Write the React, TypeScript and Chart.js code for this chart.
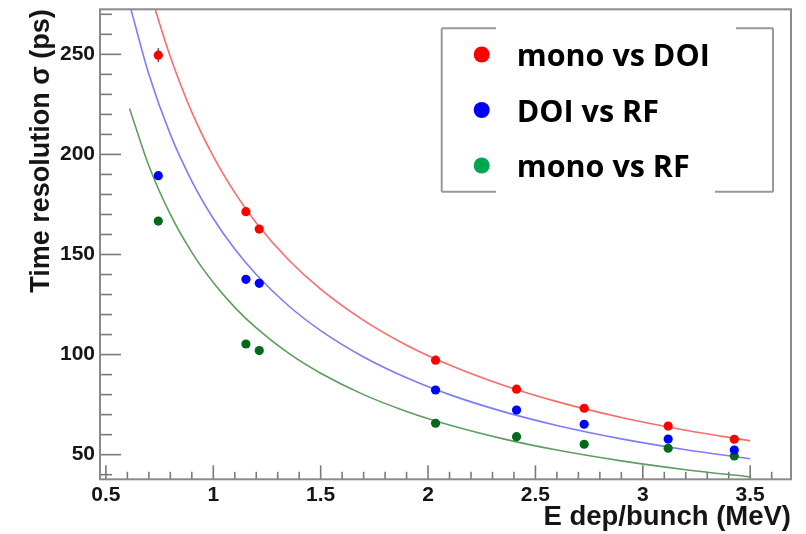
import React, { useEffect, useRef } from "react";
import { Chart, registerables } from "chart.js";

Chart.register(...registerables);

// Measured points (E dep/bunch in MeV)
const energy = [0.744, 1.152, 1.214, 2.035, 2.412, 2.727, 3.118, 3.426];
const monoVsDoi = [249.6, 171.4, 162.7, 97.2, 82.7, 73.2, 64.3, 57.7];
const doiVsRf = [189.4, 137.6, 135.6, 82.3, 72.3, 65.2, 57.8, 52.3];
const monoVsRf = [166.7, 105.3, 102.0, 65.7, 59.0, 55.2, 53.2, 49.4];
const monoVsDoiErr = [3.5, 0, 0, 0, 0, 0, 0, 0];

// Fit curves
const redFitX = [0.729, 0.8, 0.9, 1.0, 1.1, 1.2, 1.35, 1.5, 1.7, 1.9, 2.1, 2.35, 2.6, 2.9, 3.2, 3.5];
const redFitY = [272.5, 248.8, 221.1, 199.0, 180.9, 165.8, 147.4, 132.7, 117.1, 104.7, 94.8, 84.7, 76.5, 68.6, 62.2, 56.9];
const blueFitX = [0.616, 0.7, 0.8, 0.9, 1.0, 1.1, 1.2, 1.35, 1.5, 1.7, 1.9, 2.1, 2.35, 2.6, 2.9, 3.2, 3.5];
const blueFitY = [272.7, 240.0, 210.0, 186.7, 168.0, 152.7, 140.0, 124.4, 112.0, 98.8, 88.4, 80.0, 71.5, 64.6, 57.9, 52.5, 48.0];
const greenFitX = [0.61, 0.7, 0.8, 0.9, 1.0, 1.1, 1.2, 1.35, 1.5, 1.7, 1.9, 2.1, 2.35, 2.6, 2.9, 3.2, 3.5];
const greenFitY = [223.0, 194.3, 170.0, 151.1, 136.0, 123.6, 113.3, 100.7, 90.7, 80.0, 71.6, 64.8, 57.9, 52.3, 46.9, 42.5, 38.9];

// Axis ticks
const xMajorTicks = [0.5, 1, 1.5, 2, 2.5, 3, 3.5];
const xMinorTicks = [0.6, 0.7, 0.8, 0.9, 1.1, 1.2, 1.3, 1.4, 1.6, 1.7, 1.8, 1.9, 2.1, 2.2, 2.3, 2.4, 2.6, 2.7, 2.8, 2.9, 3.1, 3.2, 3.3, 3.4, 3.6];
const yMajorTicks = [50, 100, 150, 200, 250];
const yMinorTicks = [40, 60, 70, 80, 90, 110, 120, 130, 140, 160, 170, 180, 190, 210, 220, 230, 240, 260, 270];

const legendLabels = ["mono vs DOI", "DOI vs RF", "mono vs RF"];
const legendColors = ["#ff0000", "#0000ff", "#00a550"];

const xTitle = "E dep/bunch (MeV)";
const yTitle = "Time resolution \u03c3 (ps)";

const pts = (xs: number[], ys: number[]) => xs.map((x, i) => ({ x, y: ys[i] }));

export default function App() {
  const ref = useRef<HTMLCanvasElement>(null);

  useEffect(() => {
    const canvas = ref.current;
    if (!canvas) return;

    const rootPlugin = {
      id: "rootStyle",
      beforeDatasetsDraw(chart: any) {
        const { ctx, scales } = chart;
        const xs = scales.x, ys = scales.y;
        ctx.save();
        ctx.strokeStyle = "#555";
        ctx.lineWidth = 1.5;
        energy.forEach((e, i) => {
          const err = monoVsDoiErr[i];
          if (!err) return;
          const px = xs.getPixelForValue(e);
          ctx.beginPath();
          ctx.moveTo(px, ys.getPixelForValue(monoVsDoi[i] - err));
          ctx.lineTo(px, ys.getPixelForValue(monoVsDoi[i] + err));
          ctx.stroke();
        });
        ctx.restore();
      },
      afterDatasetsDraw(chart: any) {
        const { ctx, chartArea: a, scales } = chart;
        const xs = scales.x, ys = scales.y;
        ctx.save();
        ctx.strokeStyle = "#7a7a7a";
        ctx.lineWidth = 1.6;
        const tick = (x1: number, y1: number, x2: number, y2: number) => {
          ctx.beginPath();
          ctx.moveTo(x1, y1);
          ctx.lineTo(x2, y2);
          ctx.stroke();
        };
        xMajorTicks.forEach((v) => { const p = xs.getPixelForValue(v); tick(p, a.bottom, p, a.bottom - 14); });
        xMinorTicks.forEach((v) => { const p = xs.getPixelForValue(v); tick(p, a.bottom, p, a.bottom - 7.5); });
        yMajorTicks.forEach((v) => { const p = ys.getPixelForValue(v); tick(a.left, p, a.left + 21, p); });
        yMinorTicks.forEach((v) => { const p = ys.getPixelForValue(v); tick(a.left, p, a.left + 12, p); });
        ctx.strokeStyle = "#8a8a8a";
        ctx.lineWidth = 2;
        ctx.strokeRect(a.left, a.top, a.right - a.left, a.bottom - a.top);
        ctx.restore();
      },
      afterDraw(chart: any) {
        const { ctx } = chart;
        ctx.save();
        // legend box (partially covered border, as in the figure)
        const L = 441.7, R = 773, T = 28.3, B = 191.7;
        ctx.fillStyle = "#fff";
        ctx.fillRect(L, T, R - L, B - T);
        ctx.strokeStyle = "#999";
        ctx.lineWidth = 2;
        const seg = (x1: number, y1: number, x2: number, y2: number) => {
          ctx.beginPath();
          ctx.moveTo(x1, y1);
          ctx.lineTo(x2, y2);
          ctx.stroke();
        };
        seg(L, T, L, B);
        seg(R, T, R, B);
        seg(L, T, 496, T);
        seg(736, T, R, T);
        seg(L, B, 496, B);
        seg(715, B, R, B);
        const baselines = [66, 121.5, 177];
        legendLabels.forEach((lab, i) => {
          ctx.fillStyle = legendColors[i];
          ctx.beginPath();
          ctx.arc(481.7, baselines[i] - 11.5, 8, 0, Math.PI * 2);
          ctx.fill();
          ctx.fillStyle = "#000";
          ctx.font = "bold 30.5px 'Open Sans'";
          ctx.textBaseline = "alphabetic";
          ctx.textAlign = "left";
          ctx.fillText(lab, 516.7, baselines[i]);
        });
        ctx.restore();
      },
    };

    const chart = new Chart(canvas, {
      type: "scatter",
      data: {
        datasets: [
          { label: "mono vs DOI fit", data: pts(redFitX, redFitY), showLine: true, borderColor: "#ff6a6a", borderWidth: 1.6, pointRadius: 0, cubicInterpolationMode: "monotone", order: 2 },
          { label: "DOI vs RF fit", data: pts(blueFitX, blueFitY), showLine: true, borderColor: "#7c7cff", borderWidth: 1.6, pointRadius: 0, cubicInterpolationMode: "monotone", order: 2 },
          { label: "mono vs RF fit", data: pts(greenFitX, greenFitY), showLine: true, borderColor: "#5e9e5e", borderWidth: 1.6, pointRadius: 0, cubicInterpolationMode: "monotone", order: 2 },
          { label: legendLabels[0], data: pts(energy, monoVsDoi), pointRadius: 4.6, pointBackgroundColor: "#ff0000", pointBorderWidth: 0, borderColor: "#ff0000", order: 1 },
          { label: legendLabels[1], data: pts(energy, doiVsRf), pointRadius: 4.6, pointBackgroundColor: "#0000ff", pointBorderWidth: 0, borderColor: "#0000ff", order: 1 },
          { label: legendLabels[2], data: pts(energy, monoVsRf), pointRadius: 4.6, pointBackgroundColor: "#046a1a", pointBorderWidth: 0, borderColor: "#046a1a", order: 1 },
        ] as any,
      },
      options: {
        animation: false,
        responsive: true,
        maintainAspectRatio: false,
        layout: { padding: { left: 0, top: 9.3, right: 15, bottom: 0 } },
        plugins: { legend: { display: false }, tooltip: { enabled: false } },
        scales: {
          x: {
            type: "linear",
            min: 0.4725,
            max: 3.69,
            grid: { display: false, drawTicks: false },
            border: { display: false },
            afterBuildTicks: (s: any) => { s.ticks = xMajorTicks.map((v) => ({ value: v })); },
            afterFit: (s: any) => { s.height = 54.7; s.paddingLeft = 0; s.paddingRight = 0; },
            ticks: {
              autoSkip: false,
              maxRotation: 0,
              padding: 3,
              color: "#151515",
              font: { family: "'Liberation Sans', Arial, sans-serif", size: 21, weight: "bold" },
              callback: (v: any) => String(v),
            },
            title: {
              display: true,
              text: xTitle,
              align: "end",
              color: "#151515",
              padding: 0,
              font: { family: "'Liberation Sans', Arial, sans-serif", size: 27.5, weight: "bold" },
            },
          },
          y: {
            type: "linear",
            min: 37.7,
            max: 272.5,
            grid: { display: false, drawTicks: false },
            border: { display: false },
            afterBuildTicks: (s: any) => { s.ticks = yMajorTicks.map((v) => ({ value: v })); },
            afterFit: (s: any) => { s.width = 100; s.paddingTop = 0; s.paddingBottom = 0; },
            ticks: {
              padding: 5,
              color: "#151515",
              font: { family: "'Liberation Sans', Arial, sans-serif", size: 21, weight: "bold" },
              callback: (v: any) => String(v),
            },
            title: {
              display: true,
              text: yTitle,
              align: "end",
              color: "#151515",
              padding: { top: 25, bottom: 0 },
              font: { family: "'Liberation Sans', Arial, sans-serif", size: 27, weight: "bold" },
            },
          },
        },
      } as any,
      plugins: [rootPlugin],
    });

    return () => chart.destroy();
  }, []);

  return (
    <div style={{ position: "fixed", left: 0, top: 0, width: 806, height: 534, background: "#fff" }}>
      <canvas ref={ref} />
    </div>
  );
}
